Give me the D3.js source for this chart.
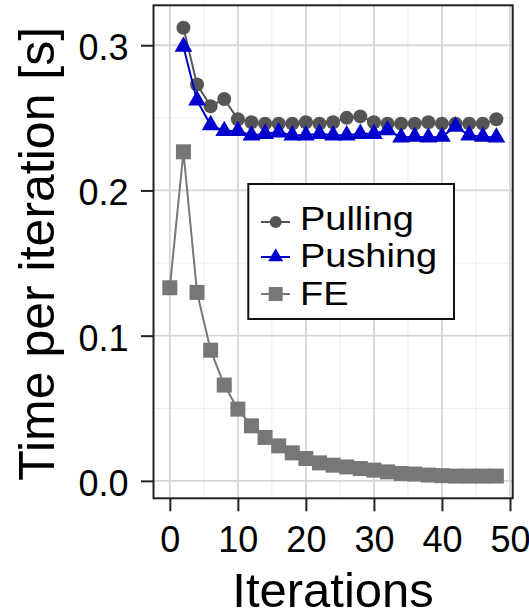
<!DOCTYPE html>
<html>
<head>
<meta charset="utf-8">
<script src="https://cdn.jsdelivr.net/npm/d3@7"></script>
<style>
  html, body { margin: 0; padding: 0; background: #fff; }
  svg { display: block; font-family: "Liberation Sans", Arial, Helvetica, sans-serif; }
</style>
</head>
<body>
<svg id="chart" width="529" height="612"></svg>
<script>
// Iteration numbers at which each series was sampled
const iterPull = [2, 4, 6, 8, 10, 12, 14, 16, 18, 20, 22, 24, 26, 28, 30, 32, 34, 36, 38, 40, 42, 44, 46, 48];
const iterFE   = [0, 2, 4, 6, 8, 10, 12, 14, 16, 18, 20, 22, 24, 26, 28, 30, 32, 34, 36, 38, 40, 42, 44, 46, 48];

// Time per iteration [s]
const pulling = [0.312, 0.273, 0.258, 0.263, 0.249, 0.247, 0.246, 0.246, 0.246, 0.247, 0.246, 0.247,
                 0.250, 0.251, 0.247, 0.246, 0.246, 0.246, 0.247, 0.246, 0.246, 0.246, 0.246, 0.249];
const pushing = [0.299, 0.262, 0.245, 0.241, 0.241, 0.238, 0.239, 0.240, 0.238, 0.238, 0.239, 0.238,
                 0.238, 0.239, 0.239, 0.2415, 0.2365, 0.237, 0.2365, 0.237, 0.244, 0.238, 0.237, 0.2365];
const fe      = [0.133, 0.2266, 0.1298, 0.090, 0.066, 0.0494, 0.0379, 0.0299, 0.0241, 0.0193, 0.0154, 0.0124,
                 0.0108, 0.0096, 0.0085, 0.0074, 0.0062, 0.0051, 0.0047, 0.0040, 0.0036, 0.0033, 0.0033, 0.0033, 0.0033];

const xTicks = [0, 10, 20, 30, 40, 50];
const yTicks = [0.0, 0.1, 0.2, 0.3];
const xMinor = [5, 15, 25, 35, 45];
const yMinor = [0.05, 0.15, 0.25];

const seriesNames = ["Pulling", "Pushing", "FE"];

const svg = d3.select("#chart");

const panel = { left: 153.5, right: 512.7, top: 5.3, bottom: 498.3 };

const x = d3.scaleLinear().domain([-2.4, 50.4]).range([panel.left, panel.right]);
const y = d3.scaleLinear().domain([-0.012, 0.3275]).range([panel.bottom, panel.top]);

// panel background
svg.append("rect")
  .attr("x", panel.left).attr("y", panel.top)
  .attr("width", panel.right - panel.left).attr("height", panel.bottom - panel.top)
  .attr("fill", "#fff");

// grid: minor then major
const grid = svg.append("g");
grid.selectAll(".vminor").data(xMinor).join("line")
  .attr("x1", d => x(d)).attr("x2", d => x(d))
  .attr("y1", panel.top).attr("y2", panel.bottom)
  .attr("stroke", "#ececec").attr("stroke-width", 1);
grid.selectAll(".hminor").data(yMinor).join("line")
  .attr("y1", d => y(d)).attr("y2", d => y(d))
  .attr("x1", panel.left).attr("x2", panel.right)
  .attr("stroke", "#ececec").attr("stroke-width", 1);
grid.selectAll(".vmajor").data(xTicks).join("line")
  .attr("x1", d => x(d)).attr("x2", d => x(d))
  .attr("y1", panel.top).attr("y2", panel.bottom)
  .attr("stroke", "#d6d6d6").attr("stroke-width", 1.8);
grid.selectAll(".hmajor").data(yTicks).join("line")
  .attr("y1", d => y(d)).attr("y2", d => y(d))
  .attr("x1", panel.left).attr("x2", panel.right)
  .attr("stroke", "#d6d6d6").attr("stroke-width", 1.8);

// marker shapes
function circlePath(r) {
  return `M${-r},0a${r},${r} 0 1,0 ${2 * r},0a${r},${r} 0 1,0 ${-2 * r},0Z`;
}
function trianglePath(u) {
  const up = 1.555 * u, hw = 1.347 * u, dn = 0.778 * u;
  return `M0,${-up}L${hw},${dn}L${-hw},${dn}Z`;
}
function squarePath(s) {
  const h = s / 2;
  return `M${-h},${-h}H${h}V${h}H${-h}Z`;
}

const series = [
  { name: seriesNames[0], xs: iterPull, ys: pulling, color: "#555555", marker: circlePath(7),     legendMarker: circlePath(6) },
  { name: seriesNames[1], xs: iterPull, ys: pushing, color: "#0000cc", marker: trianglePath(6.6), legendMarker: trianglePath(5.6) },
  { name: seriesNames[2], xs: iterFE,   ys: fe,      color: "#777777", marker: squarePath(15),    legendMarker: squarePath(14) }
];

const line = d3.line().x(d => x(d[0])).y(d => y(d[1]));

const marks = svg.append("g");
series.forEach(s => {
  const pts = s.xs.map((v, i) => [v, s.ys[i]]);
  marks.append("path")
    .attr("d", line(pts))
    .attr("fill", "none")
    .attr("stroke", s.color)
    .attr("stroke-width", 2);
  marks.append("g").selectAll("path").data(pts).join("path")
    .attr("transform", d => `translate(${x(d[0])},${y(d[1])})`)
    .attr("d", s.marker)
    .attr("fill", s.color);
});

// panel border
svg.append("rect")
  .attr("x", panel.left).attr("y", panel.top)
  .attr("width", panel.right - panel.left).attr("height", panel.bottom - panel.top)
  .attr("fill", "none").attr("stroke", "#222").attr("stroke-width", 2);

// axes
const xAxis = svg.append("g")
  .attr("transform", `translate(0,${panel.bottom})`)
  .call(d3.axisBottom(x).tickValues(xTicks).tickFormat(d3.format("d")).tickSize(13).tickPadding(14.8).tickSizeOuter(0));
const yAxis = svg.append("g")
  .attr("transform", `translate(${panel.left},0)`)
  .call(d3.axisLeft(y).tickValues(yTicks).tickFormat(d3.format(".1f")).tickSize(12.5).tickPadding(12.5).tickSizeOuter(0));

[xAxis, yAxis].forEach(a => {
  a.select(".domain").remove();
  a.selectAll(".tick line").attr("stroke", "#222").attr("stroke-width", 2);
  a.selectAll(".tick text")
    .attr("fill", "#000")
    .style("font-family", "'Liberation Sans', Arial, Helvetica, sans-serif")
    .style("font-size", "36px");
});
yAxis.selectAll(".tick text").attr("dy", "0.4em");

// axis titles
svg.append("text")
  .attr("x", (panel.left + panel.right) / 2)
  .attr("y", 607.3)
  .attr("text-anchor", "middle")
  .attr("font-size", 49)
  .attr("fill", "#000")
  .text("Iterations");

svg.append("text")
  .attr("transform", `translate(53.5,${(panel.top + panel.bottom) / 2 + 2}) rotate(-90)`)
  .attr("text-anchor", "middle")
  .attr("font-size", 50)
  .attr("fill", "#000")
  .text("Time per iteration [s]");

// legend
const legend = svg.append("g");
legend.append("rect")
  .attr("x", 248.3).attr("y", 184)
  .attr("width", 454 - 248.3).attr("height", 319 - 184)
  .attr("fill", "#fff").attr("stroke", "#111").attr("stroke-width", 2);

const rowY = [222, 257, 294];
const textBase = [229.5, 267, 305];
series.forEach((s, i) => {
  const cy = rowY[i];
  legend.append("line")
    .attr("x1", 261).attr("x2", 290)
    .attr("y1", cy).attr("y2", cy)
    .attr("stroke", s.color).attr("stroke-width", 2);
  legend.append("path")
    .attr("transform", `translate(275.7,${cy})`)
    .attr("d", s.legendMarker)
    .attr("fill", s.color);
  legend.append("text")
    .attr("transform", `translate(300,${textBase[i]}) scale(1.15,1)`)
    .attr("font-size", 33)
    .attr("fill", "#000")
    .text(s.name);
});
</script>
</body>
</html>
